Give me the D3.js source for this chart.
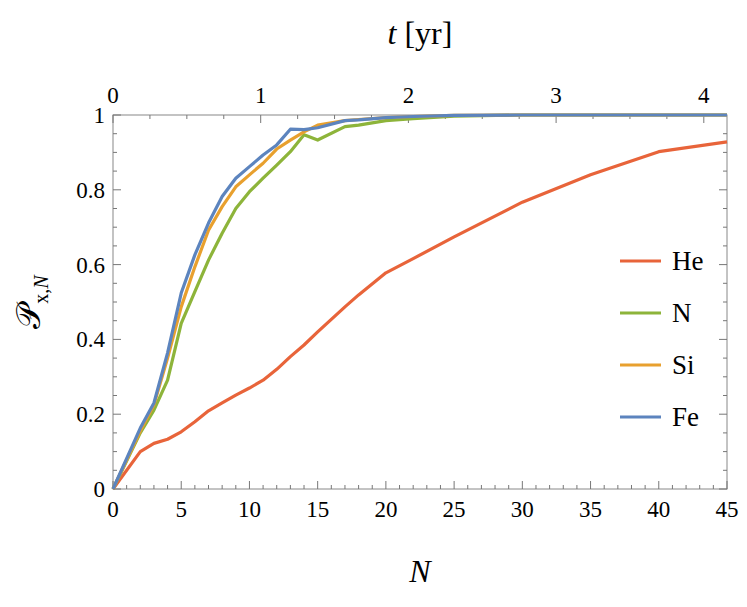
<!DOCTYPE html>
<html><head><meta charset="utf-8">
<script src="https://cdn.jsdelivr.net/npm/d3@7"></script>
<style>body{margin:0;background:#fff}text{font-family:"Liberation Serif","DejaVu Serif","Times New Roman",serif}</style>
</head><body><svg id="c" width="747" height="607" font-family="Liberation Serif, DejaVu Serif, serif"></svg>
<script>
const seriesNames = ["He","N","Si","Fe"];
const colors = ["#E8643A","#8DB43A","#E8A02E","#5C84BE"];
const Nvals = [0,2,3,4,5,6,7,8,9,10,11,12,13,14,15,17,18,20,22,25,30,35,40,45];
const He = [0,0.10,0.122,0.133,0.153,0.18,0.209,0.23,0.251,0.27,0.291,0.32,0.354,0.385,0.42,0.487,0.519,0.578,0.616,0.674,0.767,0.84,0.902,0.928];
const Nn = [0,0.15,0.211,0.291,0.443,0.528,0.612,0.684,0.75,0.795,0.831,0.866,0.902,0.947,0.933,0.969,0.973,0.985,0.99,0.997,1,1,1,1];
const Si = [0,0.155,0.225,0.35,0.487,0.594,0.692,0.755,0.808,0.84,0.871,0.909,0.933,0.955,0.973,0.985,0.988,0.993,0.996,0.999,1,1,1,1];
const Fe = [0,0.163,0.23,0.364,0.524,0.626,0.711,0.782,0.831,0.862,0.893,0.92,0.962,0.961,0.966,0.985,0.987,0.993,0.996,0.999,1,1,1,1];
const allSeries = [He,Nn,Si,Fe];
const xTicks = [0,5,10,15,20,25,30,35,40,45];
const yTicks = [0,0.2,0.4,0.6,0.8,1];
const tTicks = [0,1,2,3,4];

const FF = "Liberation Serif, DejaVu Serif, serif";
const svg = d3.select("#c");
const L=113,R=727,T=115,B=489;
const x = d3.scaleLinear().domain([0,45]).range([L,R]);
const y = d3.scaleLinear().domain([0,1]).range([B,T]);
const t = d3.scaleLinear().domain([0,(R-L)/147.7]).range([L,R]);

svg.append("rect").attr("x",L).attr("y",T).attr("width",R-L).attr("height",B-T).attr("fill","none").attr("stroke","#888").attr("stroke-width",1);

const tickCol="#777";
d3.range(0,46,1).forEach(v=>{
  const len = v%5===0?8:4;
  svg.append("line").attr("x1",x(v)).attr("x2",x(v)).attr("y1",B).attr("y2",B-len).attr("stroke",tickCol);
});
d3.range(0,4.16,0.25).forEach(v=>{
  const len = Math.abs(v-Math.round(v))<1e-6?8:4;
  svg.append("line").attr("x1",t(v)).attr("x2",t(v)).attr("y1",T).attr("y2",T+len).attr("stroke",tickCol);
});
d3.range(0,1.001,0.05).forEach(v=>{
  const len = Math.abs(v*5-Math.round(v*5))<1e-6?8:4;
  svg.append("line").attr("x1",L).attr("x2",L+len).attr("y1",y(v)).attr("y2",y(v)).attr("stroke",tickCol);
  svg.append("line").attr("x1",R).attr("x2",R-len).attr("y1",y(v)).attr("y2",y(v)).attr("stroke",tickCol);
});
const txt = ()=>svg.append("text").attr("font-family",FF);
xTicks.forEach(v=>txt().attr("x",x(v)).attr("y",B+28).attr("text-anchor","middle").attr("font-size",23).text(v));
tTicks.forEach(v=>txt().attr("x",t(v)).attr("y",T-12).attr("text-anchor","middle").attr("font-size",23).text(v));
yTicks.forEach(v=>txt().attr("x",L-8).attr("y",y(v)+8).attr("text-anchor","end").attr("font-size",23).text(v===0||v===1?v:v.toFixed(1)));

txt().attr("x",420).attr("y",582).attr("text-anchor","middle").attr("font-size",32).attr("font-style","italic").text("N");
const tl = txt().attr("x",420).attr("y",44).attr("text-anchor","middle").attr("font-size",32);
tl.append("tspan").attr("font-style","italic").text("t");
tl.append("tspan").text(" [yr]");
const yl = txt().attr("transform","translate(40,302) rotate(-90)").attr("text-anchor","middle").attr("font-size",34);
yl.append("tspan").text("𝒫");
yl.append("tspan").attr("font-size",20).attr("dy",8).text("x,");
yl.append("tspan").attr("font-size",20).attr("font-style","italic").text("N");

const line = d3.line().x((d,i)=>x(Nvals[i])).y(d=>y(d));
allSeries.forEach((s,k)=>{
  svg.append("path").datum(s).attr("d",line).attr("fill","none").attr("stroke",colors[k]).attr("stroke-width",3.2).attr("stroke-linejoin","round");
});
seriesNames.forEach((n,k)=>{
  const yy = 261+52*k;
  svg.append("line").attr("x1",620).attr("x2",661).attr("y1",yy).attr("y2",yy).attr("stroke",colors[k]).attr("stroke-width",3.2);
  txt().attr("x",672).attr("y",yy+9).attr("font-size",27).text(n);
});
</script></body></html>
